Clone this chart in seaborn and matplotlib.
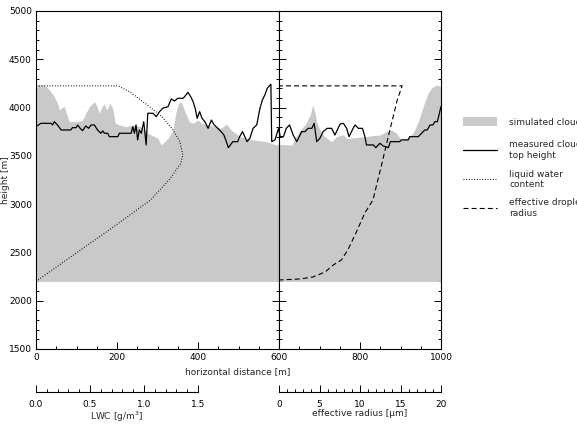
import numpy as np
import matplotlib
matplotlib.use("Agg")
import matplotlib.pyplot as plt
from matplotlib.ticker import MultipleLocator, FixedLocator
from matplotlib.patches import Patch
from matplotlib.lines import Line2D
import seaborn as sns

# ---------------- data ----------------
cloud_x = [0, 21, 33, 45, 53, 58, 62, 70, 78, 82, 103, 115, 123, 132, 144, 151, 156,
           163, 169, 174, 183, 189, 196, 206, 222, 239, 259, 276, 301, 309, 326, 338,
           346, 352, 359, 363, 371, 379, 388, 400, 408, 425, 441, 457, 470, 482, 504,
           536, 569, 594, 603, 619, 632, 640, 652, 664, 677, 683, 689, 695, 705, 718,
           730, 742, 759, 767, 792, 816, 833, 849, 865, 878, 890, 902, 915, 931, 944,
           952, 960, 968, 977, 989, 1000]
cloud_top = [4234, 4234, 4182, 4113, 4044, 3975, 3993, 4010, 3906, 3854, 3854, 3871,
             3941, 4010, 4061, 4010, 3941, 4010, 4037, 3975, 4044, 3993, 3837, 3820,
             3802, 3820, 3802, 3734, 3682, 3613, 3682, 3768, 3958, 4044, 4061, 4010,
             3923, 3854, 3837, 3871, 3837, 3820, 3802, 3785, 3830, 3768, 3699, 3665,
             3647, 3613, 3620, 3613, 3613, 3682, 3768, 3820, 3923, 4027, 3941, 3820,
             3734, 3682, 3647, 3699, 3720, 3680, 3690, 3700, 3710, 3716, 3751, 3768,
             3734, 3665, 3680, 3734, 3854, 3958, 4061, 4148, 4206, 4234, 4217]
cloud_base = 2200

meas_x = [0, 12, 37, 41, 45, 53, 62, 86, 90, 99, 103, 109, 115, 123, 130, 136, 144,
          152, 160, 165, 169, 177, 181, 202, 206, 235, 239, 243, 247, 251, 255, 260,
          266, 272, 276, 289, 297, 305, 313, 326, 334, 342, 350, 363, 367, 375, 382,
          388, 393, 398, 404, 410, 417, 425, 433, 440, 449, 457, 464, 470, 475, 486,
          498, 503, 510, 521, 528, 536, 545, 553, 559, 565, 571, 580, 582, 590, 599,
          603, 611, 618, 626, 635, 644, 656, 664, 672, 681, 687, 693, 701, 709, 719,
          730, 738, 751, 759, 767, 773, 783, 788, 796, 806, 812, 816, 833, 839, 849,
          857, 870, 875, 898, 902, 919, 923, 944, 952, 960, 966, 973, 980, 985, 991,
          995, 1000]
meas_top = [3802, 3837, 3837, 3820, 3854, 3820, 3768, 3768, 3792, 3792, 3820, 3785,
            3761, 3810, 3785, 3820, 3820, 3768, 3734, 3758, 3734, 3734, 3699, 3699,
            3734, 3734, 3802, 3734, 3820, 3665, 3768, 3734, 3854, 3613, 3941, 3941,
            3906, 3958, 3993, 4010, 4089, 4068, 4096, 4096, 4113, 4158, 4113, 4061,
            3993, 3889, 3958, 3889, 3854, 3785, 3871, 3820, 3785, 3751, 3716, 3647,
            3585, 3647, 3647, 3700, 3751, 3647, 3682, 3785, 3820, 3993, 4079, 4130,
            4200, 4241, 3647, 3665, 3785, 3699, 3699, 3785, 3820, 3716, 3647, 3751,
            3751, 3785, 3785, 3837, 3647, 3682, 3751, 3785, 3785, 3716, 3830, 3837,
            3785, 3699, 3785, 3820, 3785, 3785, 3699, 3613, 3613, 3585, 3630, 3603,
            3585, 3647, 3647, 3665, 3665, 3699, 3699, 3734, 3768, 3768, 3820, 3820,
            3854, 3854, 3923, 4010]

lwc_height = [2200, 2500, 2750, 3043, 3261, 3420, 3510, 3650, 3768, 3850, 3923, 4027,
              4162, 4225, 4225]
lwc_value = [0.0, 0.38, 0.70, 1.06, 1.24, 1.34, 1.36, 1.33, 1.27, 1.21, 1.15, 1.03,
             0.87, 0.76, 0.0]

reff_height = [2205, 2215, 2225, 2246, 2298, 2370, 2422, 2526, 2702, 2909, 3043, 3385,
               3737, 4079, 4225, 4225]
reff_value = [0.0, 0.1, 2.6, 4.2, 5.7, 6.7, 7.7, 8.5, 9.5, 10.6, 11.6, 12.6, 13.6,
              14.6, 15.2, 0.0]

legend_labels = ['simulated cloud', 'measured cloud\ntop height', 'liquid water\ncontent',
                 'effective droplet\nradius']

# ---------------- style ----------------
sns.set_style("ticks")
plt.rcParams['font.family'] = ['DejaVu Sans']
plt.rcParams['font.size'] = 6.5
plt.rcParams['axes.linewidth'] = 0.8

gray = '#c9c9c9'
dotted = (0, (0.8, 1.6))
dashed = (0, (4.5, 2.8))
W, H = 577, 426
fig = plt.figure(figsize=(W / 100, H / 100), dpi=100)

def fx(px):
    return px / W

def fy(py):
    return 1 - py / H

ax_top, ax_bot = 11, 349
axL = fig.add_axes([fx(36), fy(ax_bot), fx(279 - 36), (ax_bot - ax_top) / H])
axR = fig.add_axes([fx(279), fy(ax_bot), fx(441 - 279), (ax_bot - ax_top) / H])

for ax in (axL, axR):
    ax.fill_between(cloud_x, cloud_base, cloud_top, color=gray, linewidth=0, zorder=1)
    sns.lineplot(x=meas_x, y=meas_top, ax=ax, color='black', linewidth=0.9,
                 sort=False, estimator=None, zorder=3)
    ax.set_ylim(1500, 5000)
    ax.yaxis.set_major_locator(MultipleLocator(500))
    ax.yaxis.set_minor_locator(MultipleLocator(100))
    ax.xaxis.set_minor_locator(MultipleLocator(50))
    ax.tick_params(which='both', direction='in', top=True, right=True,
                   bottom=True, left=True, colors='black', width=0.7, pad=3,
                   labelsize=6.5)
    ax.tick_params(which='major', length=5)
    ax.tick_params(which='minor', length=2.5)
    for s in ax.spines.values():
        s.set_color('black')
        s.set_linewidth(0.8)
    ax.set_xlabel('')
    ax.set_ylabel('')

axL.set_xlim(0, 600)
axL.xaxis.set_major_locator(FixedLocator([0, 200, 400, 600]))
axL.set_ylabel('height [m]', fontsize=6.5)
axL.yaxis.set_label_coords((10 - 36) / 243, 0.5)

axR.set_xlim(600, 1000)
axR.xaxis.set_major_locator(FixedLocator([600, 800, 1000]))
axR.set_xticklabels(['', '800', '1000'])
axR.tick_params(labelleft=False)

# profile overlays in their own units
axLt = axL.twiny()
axLt.set_xlim(0, 1.5 * 600 / 400)
sns.lineplot(x=lwc_value, y=lwc_height, ax=axLt, color='black', linewidth=0.8,
             linestyle=dotted, sort=False, estimator=None, zorder=4)
axLt.axis('off')

axRt = axR.twiny()
axRt.set_xlim(0, 20)
sns.lineplot(x=reff_value, y=reff_height, ax=axRt, color='black', linewidth=0.8,
             linestyle=dashed, sort=False, estimator=None, zorder=4)
axRt.axis('off')
axLt.set_ylim(1500, 5000)
axRt.set_ylim(1500, 5000)

fig.text(fx(238), fy(372), 'horizontal distance [m]', ha='center', va='center',
         fontsize=6.5)

# secondary scale axes below
def scale_axis(left, right, lim, major, minor, fmt, label):
    a = fig.add_axes([fx(left), fy(392), fx(right - left), 0.0001])
    a.set_xlim(*lim)
    a.set_yticks([])
    for k in ('top', 'left', 'right'):
        a.spines[k].set_visible(False)
    a.spines['bottom'].set_color('black')
    a.spines['bottom'].set_linewidth(0.8)
    a.set_facecolor('none')
    a.xaxis.set_major_locator(FixedLocator(major))
    a.xaxis.set_minor_locator(MultipleLocator(minor))
    a.set_xticklabels([fmt(v) for v in major])
    a.tick_params(which='both', direction='in', colors='black', width=0.7,
                  labelsize=6.5, pad=6)
    a.tick_params(which='major', length=5)
    a.tick_params(which='minor', length=2.5)
    a.set_xlabel(label, fontsize=6.5, labelpad=0)
    return a

scale_axis(36, 198, (0, 1.5), [0, 0.5, 1.0, 1.5], 0.1, lambda v: f'{v:.1f}',
           'LWC [g/m$^3$]')
scale_axis(279, 441, (0, 20), [0, 5, 10, 15, 20], 1, lambda v: f'{v:d}',
           'effective radius [µm]')

# legend: one entry per block, stacked like the original
handles = [Patch(facecolor=gray, edgecolor='none'),
           Line2D([], [], color='black', linewidth=0.9),
           Line2D([], [], color='black', linewidth=0.8, linestyle=dotted),
           Line2D([], [], color='black', linewidth=0.8, linestyle=dashed)]
centers = [122, 150, 179.5, 208]
for h, lab, yc in zip(handles, legend_labels, centers):
    fig.legend([h], [lab], loc='center left', bbox_to_anchor=(fx(463), fy(yc)),
               frameon=False, fontsize=6.5, handlelength=3.8, handleheight=1.2,
               handletextpad=1.3, borderaxespad=0, borderpad=0, labelspacing=0)

fig.savefig('out.png', dpi=100)
